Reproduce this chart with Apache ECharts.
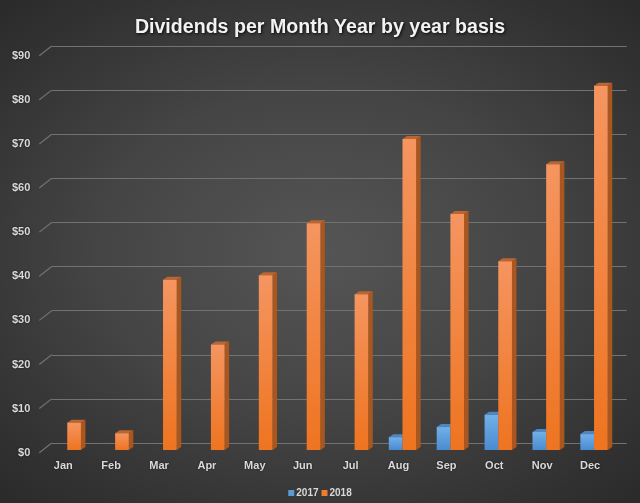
<!DOCTYPE html>
<html>
<head>
<meta charset="utf-8">
<script src="https://cdn.jsdelivr.net/npm/echarts@6/dist/echarts.min.js"></script>
<style>
  html, body {
    margin: 0;
    padding: 0;
    width: 100%;
    height: 100%;
    overflow: hidden;
  }
  body {
    background: radial-gradient(ellipse 75% 70% at 50% 50%, #555555 0%, #454545 45%, #303030 85%, #292929 100%);
  }
  #chart {
    width: 640px;
    height: 503px;
  }
</style>
</head>
<body>
<div id="chart"></div>
<script>
  var months = ['Jan', 'Feb', 'Mar', 'Apr', 'May', 'Jun', 'Jul', 'Aug', 'Sep', 'Oct', 'Nov', 'Dec'];
  var div2017 = [0, 0, 0, 0, 0, 0, 0, 2.9, 5.2, 8.0, 4.1, 3.6];
  var div2018 = [6.2, 3.8, 38.6, 23.9, 39.6, 51.4, 35.3, 70.5, 53.5, 42.8, 64.8, 82.6];
  var yTicks = [0, 10, 20, 30, 40, 50, 60, 70, 80, 90];

  var font = 'Liberation Sans, Arial, sans-serif';
  var gridColor = '#727272';
  var labelColor = '#d9d9d9';

  // draws one pseudo-3d column: front face, right side and top
  function bar3d(left, light, dark, side, top) {
    return function (params, api) {
      var v = api.value(1);
      if (!v) return;
      var idx = api.value(0);
      var pTop = api.coord([idx, v]);
      var pBase = api.coord([idx, 0]);
      var w = api.size([1, 0])[0] * 0.286;
      var x0 = left ? pTop[0] - w : pTop[0];
      var x1 = x0 + w;
      var dx = 4.5, dy = 3;
      return {
        type: 'group',
        children: [
          {
            type: 'polygon',
            shape: { points: [[x1, pTop[1]], [x1 + dx, pTop[1] - dy], [x1 + dx, pBase[1] - dy], [x1, pBase[1]]] },
            style: { fill: side }
          },
          {
            type: 'polygon',
            shape: { points: [[x0, pTop[1]], [x0 + dx, pTop[1] - dy], [x1 + dx, pTop[1] - dy], [x1, pTop[1]]] },
            style: { fill: top }
          },
          {
            type: 'rect',
            shape: { x: x0, y: pTop[1], width: w, height: pBase[1] - pTop[1] },
            style: { fill: new echarts.graphic.LinearGradient(0, 0, 0, 1, [
              { offset: 0, color: light },
              { offset: 1, color: dark }
            ]) }
          }
        ]
      };
    };
  }

  var chart = echarts.init(document.getElementById('chart'));
  chart.setOption({
    backgroundColor: 'transparent',
    animation: false,
    title: {
      text: 'Dividends per Month Year by year basis',
      left: 'center',
      top: 13,
      textStyle: {
        color: '#f2f2f2',
        fontFamily: font,
        fontWeight: 'bold',
        fontSize: 19.6,
        textShadowColor: 'rgba(0,0,0,0.85)',
        textShadowBlur: 3,
        textShadowOffsetX: 1,
        textShadowOffsetY: 1
      }
    },
    legend: {
      data: ['2017', '2018'],
      left: 'center',
      top: 483,
      icon: 'rect',
      itemWidth: 6,
      itemHeight: 6,
      itemGap: 3,
      textStyle: { color: labelColor, fontFamily: font, fontWeight: 'bold', fontSize: 10, padding: [0, 0, 0, -3] }
    },
    grid: [
      { left: 51.7, right: 13.3, top: 46, bottom: 60 },
      { left: 39.3, right: 25.7, top: 55.7, bottom: 50.3 },
      { left: 43.3, right: 22, top: 53, bottom: 53 }
    ],
    xAxis: [
      { gridIndex: 0, type: 'value', min: 0, max: 1, show: false },
      { gridIndex: 1, type: 'value', min: 0, max: 1, show: false },
      {
        gridIndex: 2,
        type: 'category',
        data: months,
        axisLine: { show: false },
        axisTick: { show: false },
        axisLabel: {
          margin: 10,
          padding: [0, 8, 0, 0],
          color: labelColor,
          fontFamily: font,
          fontWeight: 'bold',
          fontSize: 11,
          textShadowColor: 'rgba(0,0,0,0.6)',
          textShadowBlur: 2
        }
      }
    ],
    yAxis: [
      {
        gridIndex: 0, type: 'value', min: 0, max: 90, interval: 10,
        axisLabel: { show: false },
        axisLine: { show: false },
        axisTick: { show: false },
        splitLine: { lineStyle: { color: gridColor, width: 1.2 } }
      },
      {
        gridIndex: 1, type: 'value', min: 0, max: 90, interval: 10,
        axisLine: { show: false },
        axisTick: { show: false },
        splitLine: { show: false },
        axisLabel: {
          margin: 9,
          formatter: function (v) { return '$' + v; },
          color: labelColor,
          fontFamily: font,
          fontWeight: 'bold',
          fontSize: 11,
          textShadowColor: 'rgba(0,0,0,0.6)',
          textShadowBlur: 2
        }
      },
      { gridIndex: 2, type: 'value', min: 0, max: 90, show: false }
    ],
    series: [
      {
        type: 'custom',
        xAxisIndex: 1,
        yAxisIndex: 1,
        silent: true,
        data: yTicks.map(function (v) { return [0, v]; }),
        renderItem: function (params, api) {
          var p = api.coord([api.value(0), api.value(1)]);
          return {
            type: 'line',
            shape: { x1: p[0], y1: p[1], x2: p[0] + 12.4, y2: p[1] - 9.7 },
            style: { stroke: gridColor, lineWidth: 1.2 }
          };
        }
      },
      {
        name: '2017',
        type: 'custom',
        xAxisIndex: 2,
        yAxisIndex: 2,
        itemStyle: { color: '#5b9bd5' },
        data: div2017.map(function (v, i) { return [i, v]; }),
        renderItem: bar3d(true, '#72b0e8', '#4a8ad0', '#3b6ea6', '#4e86c2')
      },
      {
        name: '2018',
        type: 'custom',
        xAxisIndex: 2,
        yAxisIndex: 2,
        itemStyle: { color: '#ed7d31' },
        data: div2018.map(function (v, i) { return [i, v]; }),
        renderItem: bar3d(false, '#f59560', '#ee7420', '#a9561f', '#bd6530')
      }
    ]
  });
</script>
</body>
</html>
